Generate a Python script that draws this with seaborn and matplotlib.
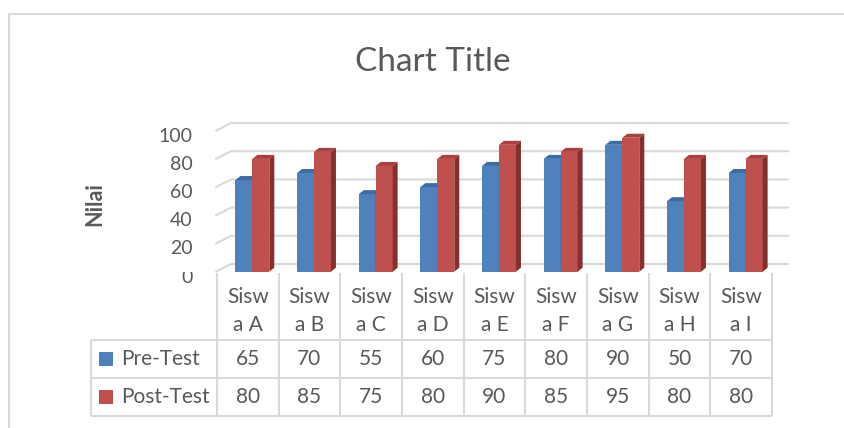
import numpy as np
import pandas as pd
import matplotlib
matplotlib.use("Agg")
import matplotlib.pyplot as plt
import seaborn as sns
from matplotlib.patches import Polygon, Rectangle
from matplotlib.transforms import ScaledTranslation

# data dari grafik
siswa = ["Siswa A", "Siswa B", "Siswa C", "Siswa D", "Siswa E",
         "Siswa F", "Siswa G", "Siswa H", "Siswa I"]
pre_test = [65, 70, 55, 60, 75, 80, 90, 50, 70]
post_test = [80, 85, 75, 80, 90, 85, 95, 80, 80]
seri = ["Pre-Test", "Post-Test"]
y_ticks = [0, 20, 40, 60, 80, 100]

warna = ["#4F81BD", "#C0504D"]
warna_atas = ["#3E6BA2", "#A8403D"]
warna_sisi = ["#345A8A", "#86302E"]
abu = "#595959"
garis = "#D9D9D9"

df = pd.DataFrame({
    "Siswa": siswa * 2,
    "Test": [seri[0]] * len(siswa) + [seri[1]] * len(siswa),
    "Nilai": pre_test + post_test,
})

sns.set_style("white")
plt.rcParams["font.family"] = ["Lato", "DejaVu Sans"]

W, H = 845, 428
fig = plt.figure(figsize=(W / 100, H / 100), dpi=100)


def kotak(x0, y0, x1, y1):
    # kotak piksel (origin kiri atas) -> pecahan figure
    return [x0 / W, 1 - y1 / H, (x1 - x0) / W, (y1 - y0) / H]


# ---------- grafik batang ----------
ax = fig.add_axes(kotak(221.5, 130.7, 776.5, 271.7))
sns.barplot(data=df, x="Siswa", y="Nilai", hue="Test", palette=warna,
            width=0.55, saturation=1, legend=False, linewidth=0, ax=ax)
ax.set_ylim(0, 100)
ax.set_xlim(-0.5, len(siswa) - 0.5)
ax.set_yticks(y_ticks)
ax.set_xticks([])
ax.set_xlabel("")
ax.set_ylabel("")
ax.patch.set_visible(False)
sns.despine(ax=ax, left=True, bottom=True)
ax.tick_params(axis="y", length=0, pad=21, labelsize=14, labelcolor=abu)
geser = ScaledTranslation(0, -4 / 100, fig.dpi_scale_trans)
for lbl in ax.get_yticklabels():
    lbl.set_transform(lbl.get_transform() + geser)


def ke_data(xp, yp):
    return ax.transData.inverted().transform((xp, H - yp))


# kedalaman 3D dalam satuan data
ddx = ke_data(5, 0)[0] - ke_data(0, 0)[0]
ddy = ke_data(0, 0)[1] - ke_data(0, 4)[1]
gdy = ke_data(0, 0)[1] - ke_data(0, 7.7)[1]

# garis grid dinding belakang
gx = [ke_data(216, 0)[0], ke_data(231, 0)[0], ke_data(788, 0)[0]]
for v in y_ticks:
    ax.plot(gx, [v, v + gdy, v + gdy], color=garis, lw=1.5,
            clip_on=False, zorder=0.5)

# sisi atas dan samping tiap batang
for i, p in enumerate(list(ax.patches)):
    k = i // len(siswa)
    x0, w, h = p.get_x(), p.get_width(), p.get_height()
    z = 2 + k
    p.set_zorder(z)
    atas = Polygon([(x0, h), (x0 + w, h), (x0 + w + ddx, h + ddy), (x0 + ddx, h + ddy)],
                   closed=True, facecolor=warna_atas[k], edgecolor="none",
                   zorder=z, clip_on=False)
    sisi = Polygon([(x0 + w, 0), (x0 + w + ddx, ddy), (x0 + w + ddx, h + ddy), (x0 + w, h)],
                   closed=True, facecolor=warna_sisi[k], edgecolor="none",
                   zorder=z, clip_on=False)
    ax.add_patch(atas)
    ax.add_patch(sisi)

# label "0" terpotong di bagian atas seperti di Excel
fig.add_artist(Rectangle((160 / W, 1 - 271.5 / H), 40 / W, 9 / H,
                         transform=fig.transFigure, facecolor="white",
                         edgecolor="none", zorder=10))

# ---------- tabel data ----------
tb = fig.add_axes(kotak(91, 273, 772, 416))
tb.set_xlim(91, 772)
tb.set_ylim(416, 273)
tb.axis("off")
n = len(siswa)
kol0 = 217
lebar = (772 - kol0) / n
batas = kol0 + lebar * np.arange(n + 1)
tengah = batas[:-1] + lebar / 2
baris_y = [359, 397]

tb.vlines(batas, 273, 416, color=garis, lw=1.5, clip_on=False)
tb.vlines(91, 340, 416, color=garis, lw=1.5, clip_on=False)
tb.hlines([340, 378, 416], 91, 772, color=garis, lw=1.5, clip_on=False)

for x, s in zip(tengah, siswa):
    tb.text(x, 311, s[:4] + "\n" + s[4:], ha="center", va="center",
            linespacing=1.55, fontsize=15, color=abu)

for yb, nama, nilai, c in zip(baris_y, seri, [pre_test, post_test], warna):
    tb.plot(106, yb, marker="s", ms=10, mew=0, color=c, clip_on=False)
    tb.text(121, yb, nama, ha="left", va="center", fontsize=15, color=abu)
    for x, v in zip(tengah, nilai):
        tb.text(x, yb, str(v), ha="center", va="center", fontsize=15, color=abu)

# judul dan label sumbu
fig.text(432.5 / W, 1 - 62 / H, "Chart Title", ha="center", va="center",
         fontsize=24, color=abu)
fig.text(95 / W, 1 - 204 / H, "Nilai", rotation=90, ha="center", va="center",
         fontsize=15.5, fontweight="bold", color=abu)

# bingkai area grafik
fig.add_artist(Rectangle((9 / W, -0.5), 2, 1 - 14 / H + 0.5, transform=fig.transFigure,
                         fill=False, edgecolor=garis, lw=1.5))

fig.savefig("out.png", dpi=100, facecolor="white")
